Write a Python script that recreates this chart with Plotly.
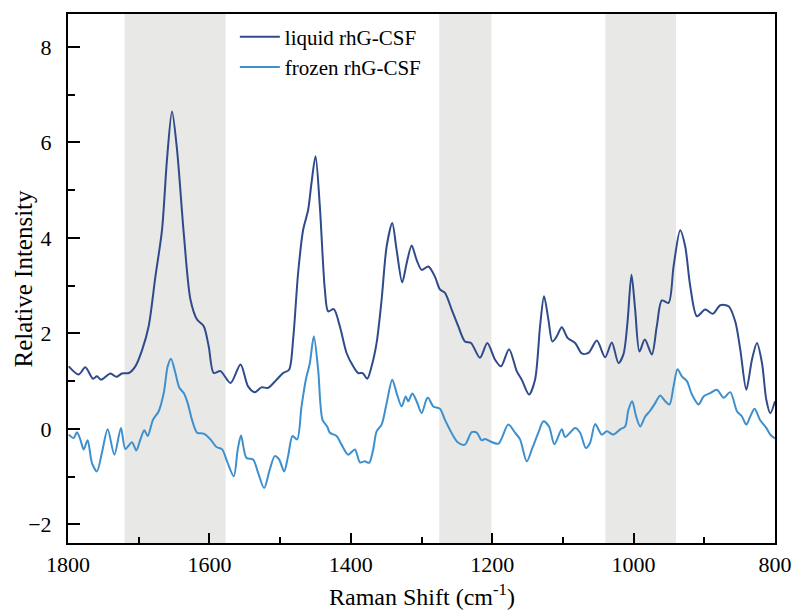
import plotly.graph_objects as go

# Raman shift (cm^-1) and relative intensity, liquid rhG-CSF
liquid_shift = [1799, 1785, 1775.5, 1764.7, 1759, 1753.4, 1740, 1731.6, 1723.7, 1714, 1704.7, 1695,
                1685.9, 1676.4, 1667, 1660, 1652.9, 1645.8, 1636.3, 1626.8, 1617.5, 1608, 1601,
                1593.9, 1584.4, 1570, 1556, 1545.3, 1535.8, 1526.3, 1517, 1505, 1495.7, 1487.3,
                1481.6, 1474.5, 1467.4, 1460.3, 1455.6, 1449.9, 1443.8, 1436.7, 1432, 1424,
                1415.5, 1406, 1396.6, 1389.5, 1383.3, 1376.8, 1370.6, 1363.5, 1356.4, 1349.3,
                1341.4, 1335.2, 1327.3, 1321, 1313.9, 1306.9, 1299.8, 1290.4, 1281, 1273.9,
                1266.8, 1257.3, 1248, 1238.5, 1230, 1217.3, 1206.9, 1196, 1187.5, 1176.2, 1165.3,
                1158.2, 1147.9, 1139.4, 1132.3, 1126.7, 1120.5, 1114.9, 1108.6, 1101.6, 1093,
                1082.7, 1073.3, 1063.9, 1052, 1040.3, 1030.8, 1021.4, 1014.4, 1008.7, 1003,
                997.8, 991.7, 984.1, 974.2, 967.2, 960, 950.6, 943.5, 934.1, 927, 919.9, 910.4,
                898.7, 887.8, 877.4, 865.7, 856.2, 849.1, 840.6, 832.6, 825.5, 818.4, 812.3,
                806.7, 800]
liquid_intensity = [1.31, 1.14, 1.29, 1.05, 1.10, 1.03, 1.16, 1.09, 1.16, 1.17, 1.31, 1.66,
                    2.15, 3.19, 4.17, 5.64, 6.65, 5.85, 4.10, 2.71, 2.29, 2.15, 1.73,
                    1.17, 1.21, 0.96, 1.35, 0.89, 0.77, 0.87, 0.86, 1.03, 1.17, 1.24,
                    1.87, 3.27, 4.17, 4.59, 5.15, 5.71, 4.66, 2.92, 2.46, 2.51,
                    2.15, 1.59, 1.31, 1.17, 1.17, 1.05, 1.31, 1.80, 2.71, 3.82,
                    4.31, 3.75, 3.07, 3.47, 3.84, 3.54, 3.33, 3.40, 3.19, 2.92,
                    2.85, 2.50, 2.15, 1.83, 1.80, 1.49, 1.80, 1.45, 1.31, 1.67, 1.21,
                    1.03, 0.72, 1.03, 2.15, 2.78, 2.29, 1.83, 1.94, 2.13, 1.90,
                    1.80, 1.58, 1.59, 1.85, 1.50, 1.81, 1.38, 1.56, 2.22, 3.23,
                    2.50, 1.62, 1.87, 1.56, 2.15, 2.69, 2.64, 3.40, 4.16, 3.82, 2.99, 2.36,
                    2.50, 2.41, 2.59, 2.57, 2.25, 1.66, 0.82, 1.45, 1.80, 1.38, 0.61,
                    0.33, 0.58]

# Raman shift (cm^-1) and relative intensity, frozen rhG-CSF
frozen_shift = [1799, 1792, 1787.4, 1782.6, 1777.9, 1772.2, 1766.2, 1759.1, 1752, 1743.9, 1734.4,
                1725.1, 1718.9, 1709.5, 1703.3, 1697.6, 1692, 1687.3, 1679.8, 1671.7, 1664.6,
                1659, 1654.3, 1648.1, 1642.4, 1636.3, 1630.7, 1624.6, 1617.5, 1608, 1598.5,
                1590, 1582, 1575, 1565.5, 1559.9, 1555.3, 1547.6, 1538.2, 1531.1, 1522.6,
                1514.6, 1507.5, 1501.4, 1494.3, 1488.7, 1482.4, 1475.9, 1469.7, 1463.6, 1457.9,
                1452.3, 1446.2, 1440, 1433.4, 1429.6, 1420.1, 1413.1, 1403.7, 1394.2, 1387.1,
                1380.1, 1374, 1368.3, 1363.5, 1356.4, 1349.3, 1341.4, 1335.2, 1328.1, 1322.4,
                1318.7, 1313, 1306.9, 1299.8, 1292.7, 1290.4, 1283.4, 1273.9, 1266.8, 1261.1,
                1255, 1248, 1238.5, 1229, 1221.9, 1214.8, 1210.2, 1203.1, 1191.3, 1177.2,
                1167.7, 1160.6, 1151.1, 1143.2, 1134.7, 1127.6, 1119.6, 1112.1, 1101.6, 1097,
                1089.9, 1082.7, 1075.6, 1067.6, 1061.5, 1054.4, 1045, 1037.9, 1028.5, 1019,
                1012, 1007.3, 1002, 996.4, 990.7, 983.6, 976.6, 969.5, 962.4, 955.3, 949.2,
                943.5, 937.9, 931.7, 924.6, 917.5, 908.1, 901, 891.6, 882.1, 872.7, 863.3,
                853.8, 846.7, 840.6, 835, 828.9, 820.9, 812.3, 806.7, 802, 800]
frozen_intensity = [-0.12, -0.19, -0.07, -0.22, -0.43, -0.24, -0.71, -0.89, -0.50, -0.01, -0.54,
                    0.02, -0.42, -0.28, -0.45, -0.22, -0.03, -0.15, 0.19, 0.37, 0.75,
                    1.31, 1.47, 1.17, 0.86, 0.75, 0.54, 0.19, -0.08, -0.10, -0.22,
                    -0.38, -0.43, -0.68, -0.99, -0.43, -0.14, -0.61, -0.64, -0.92, -1.24,
                    -0.85, -0.57, -0.64, -0.89, -0.57, -0.15, -0.22, 0.47, 1.03, 1.38,
                    1.94, 1.24, 0.19, 0.05, -0.08, -0.15, -0.33, -0.54, -0.43, -0.70,
                    -0.68, -0.71, -0.43, -0.05, 0.09, 0.54, 1.03, 0.75, 0.47, 0.68,
                    0.58, 0.74, 0.58, 0.33, 0.63, 0.65, 0.47, 0.42, 0.19, 0.02,
                    -0.15, -0.29, -0.33, -0.07, -0.08, -0.24, -0.21, -0.26, -0.31, 0.09,
                    -0.08, -0.22, -0.68, -0.40, -0.08, 0.16, 0.05, -0.32, -0.01, -0.17,
                    -0.08, 0.02, -0.08, -0.40, -0.29, 0.10, -0.12, -0.05, -0.12, -0.01,
                    0.05, 0.40, 0.58, 0.26, 0.05, 0.26, 0.38, 0.54, 0.70, 0.58, 0.51,
                    0.89, 1.25, 1.10, 1.00, 0.72, 0.51, 0.68, 0.75, 0.82, 0.65, 0.77,
                    0.37, 0.26, 0.09, 0.26, 0.42, 0.18, 0.02, -0.12, -0.18, -0.20]

# Highlighted spectral regions (cm^-1)
band_ranges = [(1720, 1577), (1275, 1201), (1040, 940)]

series_names = ["liquid rhG-CSF", "frozen rhG-CSF"]
series_colors = ["#2f4b8b", "#3d90cd"]

x_title = "Raman Shift (cm<sup>-1</sup>)"
y_title = "Relative Intensity"

FONT = "Liberation Serif, Times New Roman, serif"

fig = go.Figure()
for name, xs, ys, color in zip(series_names,
                                [liquid_shift, frozen_shift],
                                [liquid_intensity, frozen_intensity],
                                series_colors):
    fig.add_trace(go.Scatter(x=xs, y=ys, mode="lines", name=name,
                             line=dict(color=color, width=2, shape="spline", smoothing=0.8)))

for hi, lo in band_ranges:
    fig.add_shape(type="rect", xref="x", yref="paper", x0=hi, x1=lo, y0=0, y1=1,
                  fillcolor="#e8e8e6", line_width=0, layer="below")

axis_common = dict(showline=True, linecolor="black", linewidth=2, mirror=True,
                   ticks="inside", tickcolor="black", tickwidth=1.5,
                   showgrid=False, zeroline=False, automargin=False,
                   tickfont=dict(family=FONT, size=22, color="black"))

fig.update_xaxes(range=[1800, 800], dtick=200, ticklen=10, ticklabelstandoff=1,
                 minor=dict(ticks="inside", dtick=100, ticklen=6, tickcolor="black", tickwidth=1.5),
                 **axis_common)
fig.update_yaxes(range=[-2.39, 8.69], dtick=2, ticklen=12, ticklabelstandoff=10,
                 tickformat="d",
                 minor=dict(ticks="inside", dtick=1, ticklen=7, tickcolor="black", tickwidth=1.5),
                 **axis_common)

# axis titles placed as annotations for exact positioning
fig.add_annotation(text=x_title, xref="paper", yref="paper", x=0.5, y=0, yshift=-52,
                   xanchor="center", yanchor="middle", showarrow=False,
                   font=dict(family=FONT, size=24, color="black"))
fig.add_annotation(text=y_title, xref="paper", yref="paper", x=0, y=0.5, xshift=-45,
                   xanchor="center", yanchor="middle", textangle=-90, showarrow=False,
                   font=dict(family=FONT, size=25, color="black"))

fig.update_layout(
    width=794, height=612,
    margin=dict(l=68, r=19, t=14, b=69),
    paper_bgcolor="white", plot_bgcolor="white",
    font=dict(family=FONT, color="black"),
    legend=dict(x=0.236, y=0.995, xanchor="left", yanchor="top",
                bgcolor="rgba(0,0,0,0)", borderwidth=0,
                font=dict(family=FONT, size=21, color="black"),
                tracegroupgap=0, itemwidth=40),
)

fig.write_html("out.html")
